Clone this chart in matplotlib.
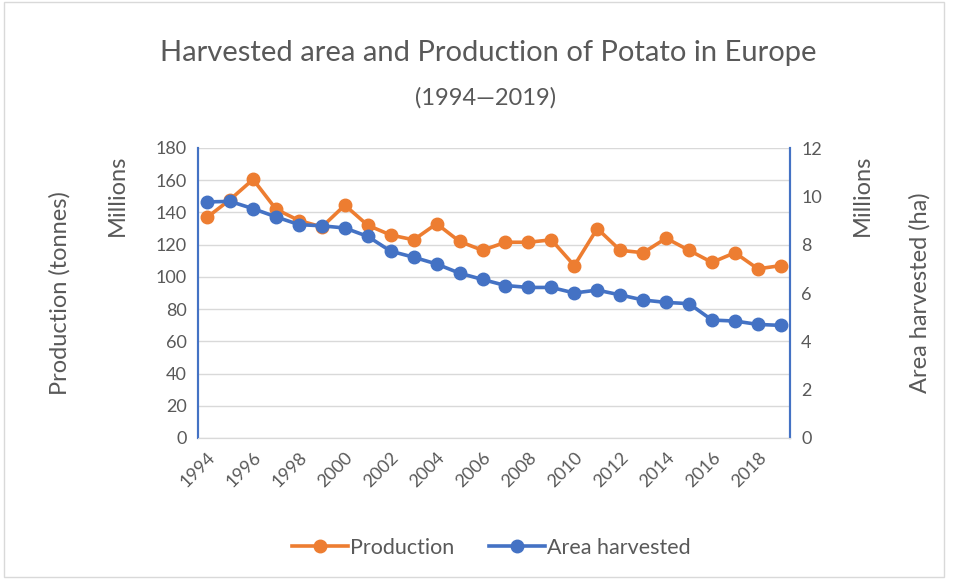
import matplotlib.pyplot as plt
import numpy as np

plt.rcParams["font.family"] = ["Lato", "DejaVu Sans"]

years = list(range(1994, 2020))
production_m = [137, 148, 160.5, 142, 135, 131, 144.5, 132, 126, 123, 133, 122, 116.5,
                121.5, 121.5, 123, 107, 130, 116.5, 115, 124, 116.5, 109, 115, 105, 107]
area_m = [9.77, 9.79, 9.49, 9.15, 8.83, 8.78, 8.69, 8.34, 7.73, 7.48, 7.2, 6.82, 6.56,
          6.31, 6.23, 6.23, 6.0, 6.12, 5.92, 5.71, 5.61, 5.56, 4.88, 4.84, 4.7, 4.66]

ORANGE = "#ED7D31"
BLUE = "#4472C4"
GREY = "#595959"

fig = plt.figure(figsize=(9.55, 5.79), dpi=100)
ax = fig.add_axes([198 / 955, 1 - 438 / 579, (790 - 198) / 955, (438 - 148) / 579])
ax2 = ax.twinx()

x = np.arange(len(years))
ax.plot(x, production_m, color=ORANGE, lw=2.6, marker="o", ms=9, label="Production")
ax2.plot(x, area_m, color=BLUE, lw=2.6, marker="o", ms=9, label="Area harvested")

ax.set_xlim(-0.4, len(years) - 0.6)
ax.set_ylim(0, 180)
ax.set_yticks(range(0, 181, 20))
ax2.set_ylim(0, 12)
ax2.set_yticks(range(0, 13, 2))
ax.set_xticks(x[::2])
ax.set_xticklabels([str(y) for y in years[::2]], rotation=45, ha="right",
                   rotation_mode="anchor")

ax.grid(axis="y", color="#D9D9D9", lw=1)
ax.set_axisbelow(True)
for a in (ax, ax2):
    a.tick_params(length=0, labelsize=13, colors=GREY, pad=8)
    a.spines["top"].set_visible(False)
    a.spines["bottom"].set_color("#D9D9D9")
    a.spines["left"].set_color(BLUE)
    a.spines["right"].set_color(BLUE)
    a.spines["left"].set_linewidth(1.5)
    a.spines["right"].set_linewidth(1.5)

fig.text(488 / 955, 1 - 53 / 579, "Harvested area and Production of Potato in Europe",
         ha="center", va="center", fontsize=21, color=GREY)
fig.text(486 / 955, 1 - 98 / 579, "(1994\u20142019)", ha="center", va="center",
         fontsize=17, color=GREY)

fig.text(60 / 955, 1 - 293 / 579, "Production (tonnes)", rotation=90,
         ha="center", va="center", fontsize=17, color=GREY)
fig.text(117 / 955, 1 - 155 / 579, "Millions", rotation=90,
         ha="center", va="top", fontsize=17, color=GREY)
fig.text(920 / 955, 1 - 293 / 579, "Area harvested (ha)", rotation=90,
         ha="center", va="center", fontsize=17, color=GREY)
fig.text(862 / 955, 1 - 155 / 579, "Millions", rotation=90,
         ha="center", va="top", fontsize=17, color=GREY)

h1, l1 = ax.get_legend_handles_labels()
h2, l2 = ax2.get_legend_handles_labels()
fig.legend(h1 + h2, l1 + l2, loc="center", bbox_to_anchor=(491 / 955, 1 - 548 / 579),
           ncol=2, frameon=False, fontsize=15.5, labelcolor=GREY, handlelength=2.6,
           handletextpad=0.1, columnspacing=1.6)

border = plt.Rectangle((0.004, 0.004), 0.985, 0.992, transform=fig.transFigure,
                       fill=False, edgecolor="#D9D9D9", lw=1)
fig.patches.append(border)

fig.savefig("out.png", dpi=100, facecolor="white")
